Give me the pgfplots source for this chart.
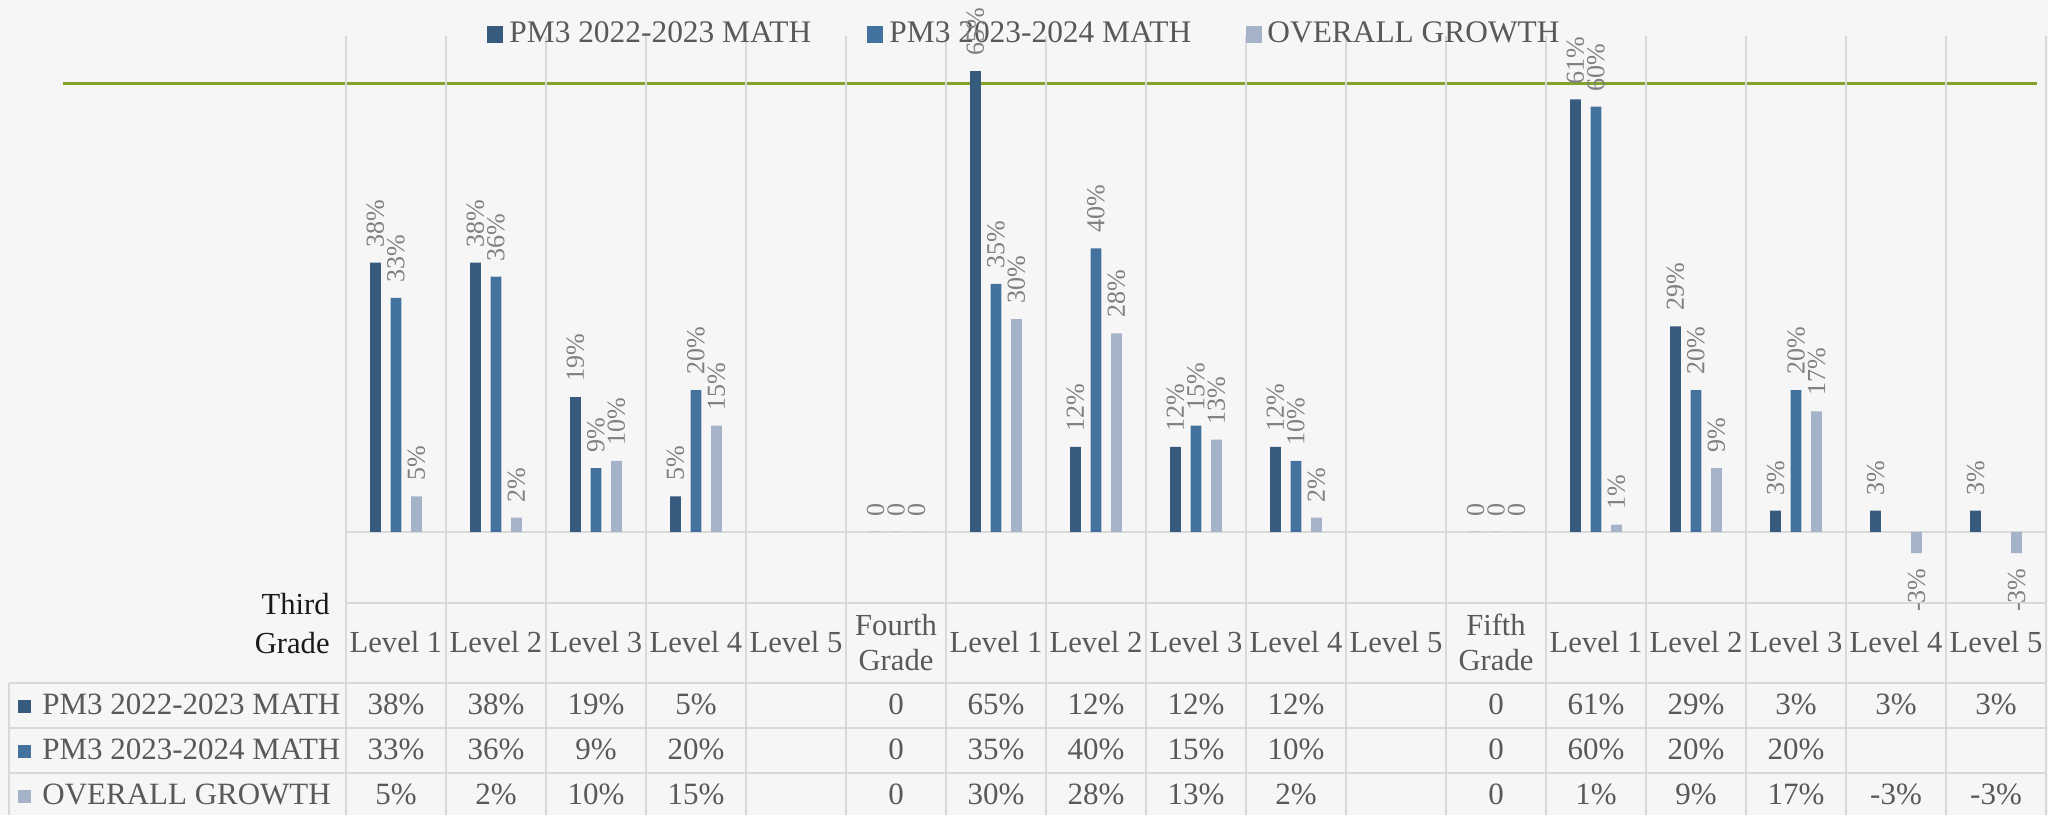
\documentclass[border=0pt]{standalone}
\usepackage{pgfplots}
\pgfplotsset{compat=1.18}
\usepackage{pgfplotstable}
\usepackage{fontspec}
\setmainfont{Liberation Serif}

\definecolor{bgc}{RGB}{246,246,246}
\definecolor{gridc}{RGB}{217,217,217}
\definecolor{cA}{RGB}{55,90,127}
\definecolor{cB}{RGB}{68,114,158}
\definecolor{cC}{RGB}{165,179,201}
\definecolor{greenl}{RGB}{132,161,43}
\definecolor{txt}{RGB}{89,89,89}
\definecolor{lbl}{RGB}{128,128,128}

% PM3 2022-2023 MATH
\pgfplotstableread{
x y lab
0 38 38\%
1 38 38\%
2 19 19\%
3 5 5\%
5 0 0
6 65 65\%
7 12 12\%
8 12 12\%
9 12 12\%
11 0 0
12 61 61\%
13 29 29\%
14 3 3\%
15 3 3\%
16 3 3\%
}\serA
% PM3 2023-2024 MATH
\pgfplotstableread{
x y lab
0 33 33\%
1 36 36\%
2 9 9\%
3 20 20\%
5 0 0
6 35 35\%
7 40 40\%
8 15 15\%
9 10 10\%
11 0 0
12 60 60\%
13 20 20\%
14 20 20\%
}\serB
% OVERALL GROWTH (non-negative)
\pgfplotstableread{
x y lab
0 5 5\%
1 2 2\%
2 10 10\%
3 15 15\%
5 0 0
6 30 30\%
7 28 28\%
8 13 13\%
9 2 2\%
11 0 0
12 1 1\%
13 9 9\%
14 17 17\%
}\serC
% OVERALL GROWTH (negative)
\pgfplotstableread{
x y lab
15 -3 -3\%
16 -3 -3\%
}\serD

\pgfplotsset{
  mybar/.style={ybar, bar width=5.3pt, bar shift=0pt, draw=none, nodes near coords,
    point meta=explicit symbolic,
    every node near coord/.append style={rotate=90, anchor=west,
      inner xsep=7.5pt, inner ysep=0pt, text=lbl,
      font=\fontsize{13}{15}\selectfont}},
}

\begin{document}
\begin{tikzpicture}
\fill[bgc] (-173pt,-106.15pt) rectangle (851pt,301.35pt);
\draw[greenl, line width=1.7pt] (-141.5pt,259.7pt) -- (845.5pt,259.7pt);
\foreach \i in {0,...,17}
  \draw[gridc, line width=0.8pt] ({50pt*\i},283.5pt) -- ({50pt*\i},-106.15pt);
\draw[gridc, line width=0.8pt] (0pt,35.44pt) -- (850pt,35.44pt);
\draw[gridc, line width=0.8pt] (0pt,0pt) -- (850pt,0pt);
\foreach \yy in {-40,-62.5,-85}
  \draw[gridc, line width=0.8pt] (-168.5pt,\yy pt) -- (850pt,\yy pt);
\draw[gridc, line width=0.8pt] (-168.5pt,-40pt) -- (-168.5pt,-106.15pt);

% legend
\begin{scope}[font=\fontsize{15.7}{18}\selectfont, text=txt]
\fill[cA] (70.5pt,280pt) rectangle (78.5pt,288.35pt);
\node[anchor=base west, inner sep=0pt] at (81.5pt,279.85pt) {PM3 2022-2023 MATH};
\fill[cB] (260.5pt,280pt) rectangle (268.5pt,288.35pt);
\node[anchor=base west, inner sep=0pt] at (271.5pt,279.85pt) {PM3 2023-2024 MATH};
\fill[cC] (449.8pt,280pt) rectangle (457.8pt,288.35pt);
\node[anchor=base west, inner sep=0pt] at (460.5pt,279.85pt) {OVERALL GROWTH};
\end{scope}

\begin{axis}[
  at={(0pt,0pt)}, anchor=south west,
  width=850pt, height=283.5pt, scale only axis,
  xmin=-0.5, xmax=16.5, ymin=-10, ymax=70,
  axis line style={draw=none},
  ytick=\empty,
  xtick={0,...,16},
  xticklabels={Level 1,Level 2,Level 3,Level 4,Level 5,{Fourth\\Grade},Level 1,Level 2,Level 3,Level 4,Level 5,{Fifth\\Grade},Level 1,Level 2,Level 3,Level 4,Level 5},
  major tick length=0pt,
  xticklabel style={anchor=center, yshift=-19.9pt, align=center, text=txt,
    font=\fontsize{15.3}{17.5}\selectfont},
  clip=false,
]
\addplot[mybar, fill=cA] table[x expr=\thisrow{x}-0.205, y=y, meta=lab] {\serA};
\addplot[mybar, fill=cB] table[x=x, y=y, meta=lab] {\serB};
\addplot[mybar, fill=cC] table[x expr=\thisrow{x}+0.205, y=y, meta=lab] {\serC};
\addplot[mybar, fill=cC,
  every node near coord/.append style={anchor=east}] table[x expr=\thisrow{x}+0.205, y=y, meta=lab] {\serD};
\end{axis}

% Third Grade group label
\node[anchor=east, align=right, inner sep=0pt, text=black!90,
  font=\fontsize{15.3}{19.5}\selectfont] at (-8pt,-10.65pt) {Third\\Grade};

% data table
\begin{scope}[font=\fontsize{15.5}{18}\selectfont, text=txt]
\fill[cA] (-164pt,-55pt) rectangle (-157.3pt,-48.65pt);
\fill[cB] (-164pt,-77.5pt) rectangle (-157.3pt,-71.15pt);
\fill[cC] (-164pt,-100pt) rectangle (-157.3pt,-93.65pt);
\node[anchor=base west, inner sep=0pt] at (-152pt,-55.7pt) {PM3 2022-2023 MATH};
\node[anchor=base west, inner sep=0pt] at (-152pt,-78.2pt) {PM3 2023-2024 MATH};
\node[anchor=base west, inner sep=0pt] at (-152pt,-100.7pt) {OVERALL GROWTH};
\foreach \v [count=\i from 0] in {38\%,38\%,19\%,5\%,{},0,65\%,12\%,12\%,12\%,{},0,61\%,29\%,3\%,3\%,3\%}
  \node[anchor=base, inner sep=0pt] at ({25pt+50pt*\i},-55.7pt) {\v};
\foreach \v [count=\i from 0] in {33\%,36\%,9\%,20\%,{},0,35\%,40\%,15\%,10\%,{},0,60\%,20\%,20\%,{},{}}
  \node[anchor=base, inner sep=0pt] at ({25pt+50pt*\i},-78.2pt) {\v};
\foreach \v [count=\i from 0] in {5\%,2\%,10\%,15\%,{},0,30\%,28\%,13\%,2\%,{},0,1\%,9\%,17\%,-3\%,-3\%}
  \node[anchor=base, inner sep=0pt] at ({25pt+50pt*\i},-100.7pt) {\v};
\end{scope}

\pgfresetboundingbox
\path[use as bounding box] (-173pt,-106.15pt) rectangle (851pt,301.35pt);
\end{tikzpicture}
\end{document}
